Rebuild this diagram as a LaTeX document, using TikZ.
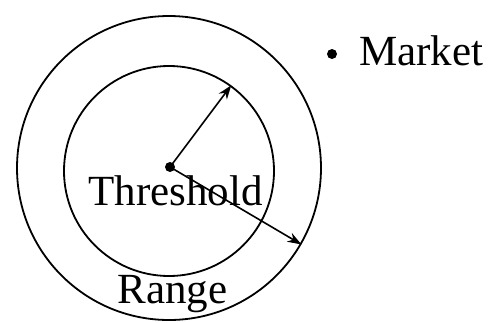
\documentclass[tikz,border=0pt]{standalone}
\usetikzlibrary{arrows.meta}
\usepackage{fontspec}
\setmainfont{Liberation Serif}
\begin{document}
\begin{tikzpicture}[x=1pt,y=-1pt,
  ring/.style={circle,draw,line width=1.8pt,inner sep=0pt},
  dotnode/.style={circle,fill,inner sep=0pt,minimum size=10pt},
  lbl/.style={anchor=base,inner sep=0pt,font=\fontsize{43}{45}\selectfont},
  radius arrow/.style={line width=1.6pt,-{Stealth[length=14pt,width=10pt]}}]
\useasboundingbox (0,0) rectangle (490,322);
\node[ring,minimum size=304pt] (outer) at (169,168) {};
\node[ring,minimum size=210pt] (inner) at (169,171) {};
\node[dotnode] (c) at (170,167) {};
\draw[radius arrow] (c.center) -- (inner.54);
\draw[radius arrow] (c.center) -- (outer.-30);
\node[lbl] (thr) at (175.5,205) {Threshold};
\node[lbl] (rng) at (172.5,303) {Range};
\node[dotnode] (mdot) at (332,54) {};
\node[lbl,anchor=base west] (mkt) at (359,65) {Market};
\end{tikzpicture}
\end{document}
